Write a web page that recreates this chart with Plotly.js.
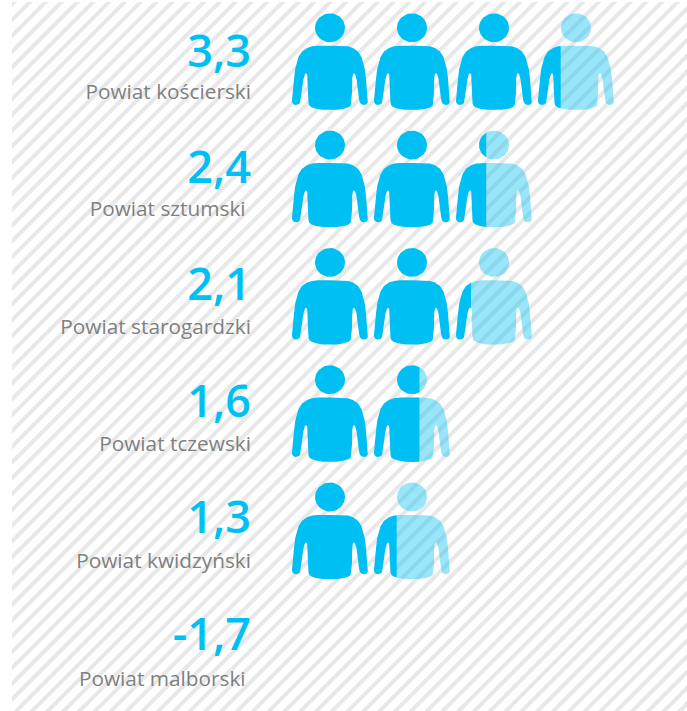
<!DOCTYPE html>
<html>
<head>
<meta charset="utf-8">
<script src="https://cdn.plot.ly/plotly-3.0.1.min.js"></script>
<style>html,body{margin:0;padding:0;background:#fff;overflow:hidden}#chart{width:687px;height:711px}</style>
</head>
<body>
<div id="chart"></div>
<script>
// Data
const districts = ["Powiat kościerski", "Powiat sztumski\u00a0", "Powiat starogardzki", "Powiat tczewski", "Powiat kwidzyński", "Powiat malborski\u00a0"];
const valueLabels = ["3,3", "2,4", "2,1", "1,6", "1,3", "-1,7"];
const values = [3.3, 2.4, 2.1, 1.6, 1.3, -1.7];
// Filled width of the last icon as actually drawn in the picture
const filledLevels = [3.3, 2.4, 2.2, 1.6, 1.3, 0];

// Layout scale: pixel <-> axis units
const W = 687, H = 711, L = 12, T = 2;
const pxPerIcon = 82, pxPerRow = 117.3;
const x0px = 289, y0px = 61.5;
const xOf = p => (p - x0px) / pxPerIcon;
const yOf = p => (p - y0px) / pxPerRow;

// Icon outline (76 x 97 box), right half; mirrored for the left half
const halfBody = [[38,32.7],[50,32.7],[56,33.3],[61,35],[66,38.5],[69.5,44],[71.5,50],[72.8,56],[74,66],[75.3,78],[76,87],[75.8,89.5],[74.5,91.3],[72.5,92],[70,91.6],[68,90],[67,86],[66,76],[64.5,66],[63.2,61.5],[62,60],[60.8,61.5],[60.2,66],[60,80],[59.5,90],[58.7,92.5],[56.5,94.2],[52,95.7],[45,96.8],[38,97]];
const body = halfBody.concat(halfBody.slice(1, -1).reverse().map(p => [76 - p[0], p[1]]));
const head = Array.from({length: 48}, (_, i) => {
  const a = i / 48 * 2 * Math.PI;
  return [38 + 15 * Math.cos(a), 14.8 + 14.5 * Math.sin(a)];
});

function clipRight(poly, xMax) {
  const out = [];
  for (let i = 0; i < poly.length; i++) {
    const a = poly[i], b = poly[(i + 1) % poly.length];
    const ai = a[0] <= xMax, bi = b[0] <= xMax;
    if (ai) out.push(a);
    if (ai !== bi) {
      const t = (xMax - a[0]) / (b[0] - a[0]);
      out.push([xMax, a[1] + t * (b[1] - a[1])]);
    }
  }
  return out;
}
function clipLeft(poly, xMin) {
  const mirrored = poly.map(p => [-p[0], p[1]]);
  return clipRight(mirrored, -xMin).map(p => [-p[0], p[1]]);
}

function addPoly(xs, ys, poly, iconIndex, rowIndex) {
  if (!poly.length) return;
  const pts = poly.concat([poly[0]]);
  pts.forEach(p => {
    xs.push(iconIndex + (3 + p[0]) / pxPerIcon);
    ys.push(rowIndex + (p[1] - 48.5) / pxPerRow);
  });
  xs.push(null); ys.push(null);
}

const traces = [];

// Diagonal background stripes
const stripePeriod = 15.8, stripeOffset = 0.4;
const sx = [], sy = [];
for (let c = stripeOffset; c < W + H + stripePeriod; c += stripePeriod) {
  sx.push(xOf(c), xOf(c - H - 10), null);
  sy.push(yOf(0), yOf(H + 10), null);
}
traces.push({type: "scatter", mode: "lines", x: sx, y: sy, hoverinfo: "skip", showlegend: false,
  line: {color: "#e8e8e8", width: 4}});

// Icons
filledLevels.forEach((level, row) => {
  const count = Math.ceil(level);
  const lx = [], ly = [], dx = [], dy = [];
  for (let i = 0; i < count; i++) {
    const frac = Math.min(1, level - i);
    if (frac < 1) {
      const cut = 76 * frac;
      addPoly(lx, ly, clipLeft(body, cut), i, row);
      addPoly(lx, ly, clipLeft(head, cut), i, row);
      addPoly(dx, dy, clipRight(body, cut), i, row);
      addPoly(dx, dy, clipRight(head, cut), i, row);
    } else {
      addPoly(dx, dy, body, i, row);
      addPoly(dx, dy, head, i, row);
    }
  }
  if (lx.length) traces.push({type: "scatter", mode: "lines", x: lx, y: ly, fill: "toself", hoverinfo: "skip",
    showlegend: false, connectgaps: false, line: {width: 0, color: "rgba(0,0,0,0)"}, fillcolor: "rgba(0,191,243,0.4)"});
  if (dx.length) traces.push({type: "scatter", mode: "lines", x: dx, y: dy, fill: "toself", name: districts[row],
    showlegend: false, connectgaps: false, line: {width: 0, color: "rgba(0,0,0,0)"}, fillcolor: "#00BFF3"});
});

// Text
const rows = districts.map((_, i) => i);
traces.push({type: "scatter", mode: "text", x: rows.map(() => xOf(251)), y: rows.map(i => i * 0.994 + yOf(55.5)),
  text: valueLabels, textposition: "middle left", hoverinfo: "skip", showlegend: false,
  cliponaxis: false, textfont: {family: "Open Sans", size: 45, weight: 600, color: "#00BFF3"}});
traces.push({type: "scatter", mode: "text", x: rows.map(() => xOf(251)), y: rows.map(i => i + yOf(94)),
  text: districts, textposition: "middle left", hoverinfo: "skip", showlegend: false,
  cliponaxis: false, textfont: {family: "Open Sans", size: 20.8, color: "#808080"}});

const layout = {
  width: W, height: H, autosize: false,
  margin: {l: L, r: 0, t: T, b: 0, pad: 0},
  paper_bgcolor: "#ffffff", plot_bgcolor: "#ffffff",
  showlegend: false,
  xaxis: {range: [xOf(L), xOf(W)], visible: false, fixedrange: true},
  yaxis: {range: [yOf(H), yOf(T)], visible: false, fixedrange: true}
};
Plotly.newPlot("chart", traces, layout, {displayModeBar: false, staticPlot: true});
</script>
</body>
</html>
